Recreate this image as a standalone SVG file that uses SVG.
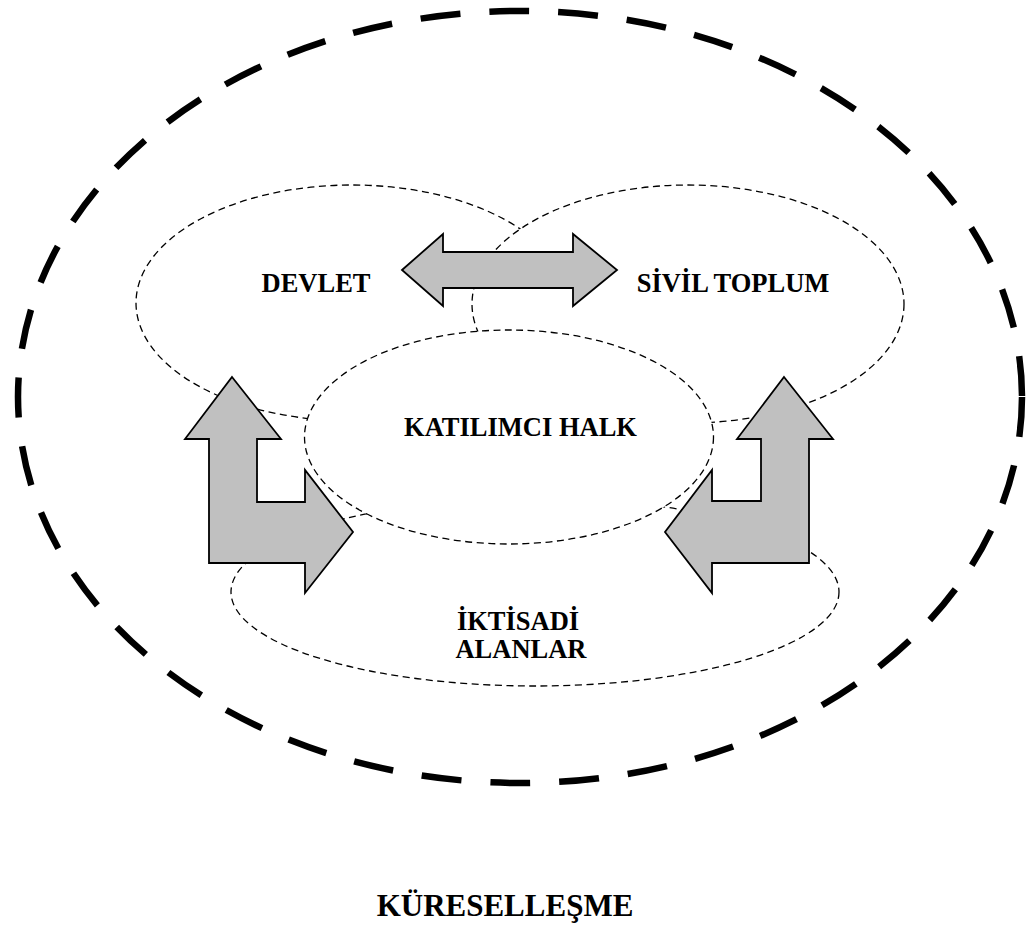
<svg xmlns="http://www.w3.org/2000/svg" width="1033" height="927" viewBox="0 0 1033 927">
<style>
.outer{fill:none;stroke:#000;stroke-width:6.5;stroke-dasharray:40 29}
.area{fill:#fff;stroke:#000;stroke-width:1.3;stroke-dasharray:7 4.5}
.arrow{fill:#c0c0c0;stroke:#000;stroke-width:1.8;stroke-linejoin:miter}
.lbl{font-family:"Liberation Serif","Times New Roman",serif;font-weight:bold;font-size:26.5px;fill:#000;text-anchor:middle}
</style>
<rect width="1033" height="927" fill="#fff"/>
<g id="kuresellesme">
<ellipse class="outer" cx="520" cy="397" rx="502" ry="386"/>
<text class="lbl" x="505" y="916" style="font-size:31px">KÜRESELLEŞME</text>
</g>
<g id="iktisadi">
<ellipse class="area" cx="535" cy="592" rx="304" ry="94"/>
</g>
<g id="devlet">
<ellipse class="area" cx="352" cy="303" rx="216" ry="118"/>
</g>
<g id="sivil">
<ellipse class="area" cx="688" cy="304" rx="216" ry="119"/>
</g>
<g id="katilimci">
<ellipse class="area" cx="509" cy="437" rx="204.5" ry="107"/>
</g>
<g id="connectors">
<polygon class="arrow" points="402,270 443,234 443,252 573,252 573,234 617,270 573,306 573,288 443,288 443,306"/>
<polygon class="arrow" points="232,377 281,439 257,439 257,502 305,502 305,470 353,532 305,593 305,563 209,563 209,439 185,439"/>
<polygon class="arrow" points="784,377 833,439 809,439 809,563 712,563 712,593 665,532 712,470 712,501 761,501 761,439 737,439"/>
</g>
<g id="labels">
<text class="lbl" x="316" y="292">DEVLET</text>
<text class="lbl" x="733" y="292">SİVİL TOPLUM</text>
<text class="lbl" x="520.5" y="436">KATILIMCI HALK</text>
<text class="lbl" x="518" y="630">İKTİSADİ</text>
<text class="lbl" x="521" y="658">ALANLAR</text>
</g>
</svg>
